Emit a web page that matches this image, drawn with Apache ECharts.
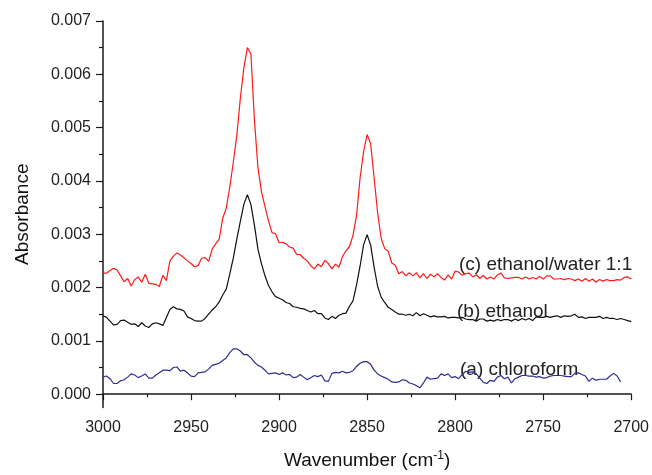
<!DOCTYPE html>
<html>
<head>
<meta charset="utf-8">
<script src="https://cdn.jsdelivr.net/npm/echarts@6/dist/echarts.min.js"></script>
<style>
  html, body { margin: 0; padding: 0; background: #fff; }
  #chart { width: 652px; height: 475px; }
</style>
</head>
<body>
<div id="chart"></div>
<script>
// wavenumber sampling grid, 3000 -> 2700 cm-1, every 2 cm-1
const wavenumber = [];
for (let w = 3000; w >= 2700; w -= 2) wavenumber.push(w);

// absorbance in units of 1e-3
const ethanolWater = [
  2.27,2.27,2.32,2.36,2.33,2.22,2.11,2.17,2.03,2.15,
  2.20,2.10,2.25,2.08,2.07,2.06,2.02,2.23,2.13,2.50,
  2.59,2.65,2.61,2.56,2.50,2.45,2.39,2.41,2.55,2.56,
  2.49,2.72,2.82,2.91,3.30,3.49,3.88,4.35,4.85,5.55,
  6.12,6.50,6.38,5.15,4.25,3.80,3.52,3.25,3.03,3.01,
  2.84,2.85,2.82,2.76,2.74,2.62,2.62,2.55,2.50,2.41,
  2.35,2.44,2.39,2.51,2.45,2.35,2.44,2.38,2.58,2.69,
  2.77,2.98,3.35,4.05,4.55,4.87,4.70,4.05,3.40,2.92,
  2.73,2.68,2.46,2.42,2.26,2.30,2.22,2.28,2.22,2.28,
  2.18,2.26,2.17,2.25,2.20,2.26,2.19,2.14,2.24,2.16,
  2.31,2.29,2.23,2.26,2.27,2.20,2.24,2.17,2.23,2.16,
  2.20,2.16,2.24,2.27,2.18,2.17,2.18,2.19,2.19,2.16,
  2.20,2.16,2.19,2.16,2.21,2.16,2.22,2.22,2.16,2.16,
  2.17,2.15,2.17,2.16,2.13,2.16,2.12,2.17,2.12,2.16,
  2.10,2.15,2.12,2.15,2.13,2.13,2.15,2.14,2.19,2.20,2.16
];

const ethanol = [
  1.47,1.44,1.37,1.30,1.31,1.38,1.39,1.35,1.31,1.32,
  1.27,1.34,1.28,1.25,1.32,1.34,1.32,1.29,1.44,1.59,
  1.64,1.60,1.59,1.56,1.45,1.42,1.38,1.37,1.37,1.42,
  1.50,1.58,1.64,1.73,1.86,1.97,2.25,2.55,2.91,3.24,
  3.56,3.74,3.56,3.17,2.72,2.45,2.22,2.04,1.92,1.83,
  1.80,1.77,1.72,1.70,1.64,1.63,1.61,1.60,1.57,1.54,
  1.57,1.51,1.51,1.43,1.40,1.46,1.42,1.48,1.51,1.52,
  1.65,1.75,2.05,2.40,2.80,2.99,2.80,2.38,2.02,1.82,
  1.72,1.63,1.59,1.54,1.50,1.50,1.48,1.50,1.47,1.53,
  1.47,1.51,1.48,1.45,1.47,1.45,1.45,1.46,1.43,1.44,
  1.44,1.43,1.44,1.41,1.40,1.40,1.37,1.41,1.41,1.37,
  1.39,1.37,1.40,1.38,1.40,1.40,1.37,1.41,1.38,1.42,
  1.39,1.42,1.38,1.45,1.44,1.44,1.46,1.44,1.46,1.47,
  1.44,1.47,1.46,1.47,1.50,1.44,1.45,1.42,1.44,1.44,
  1.44,1.46,1.42,1.44,1.42,1.42,1.40,1.42,1.40,1.38,1.36
];

// chloroform trace stops near 2706 cm-1
const chloroform = [
  0.32,0.34,0.29,0.20,0.20,0.25,0.27,0.32,0.38,0.36,
  0.31,0.34,0.38,0.30,0.30,0.36,0.40,0.45,0.45,0.44,
  0.50,0.51,0.43,0.45,0.40,0.34,0.33,0.40,0.41,0.42,
  0.47,0.54,0.56,0.58,0.63,0.68,0.78,0.85,0.85,0.81,
  0.74,0.74,0.68,0.60,0.54,0.51,0.45,0.38,0.39,0.40,
  0.37,0.40,0.36,0.37,0.31,0.32,0.37,0.32,0.27,0.31,
  0.35,0.33,0.36,0.25,0.24,0.39,0.41,0.40,0.43,0.40,
  0.41,0.44,0.52,0.58,0.61,0.61,0.56,0.45,0.38,0.34,
  0.31,0.28,0.23,0.22,0.23,0.27,0.26,0.21,0.19,0.16,
  0.12,0.21,0.32,0.28,0.29,0.30,0.38,0.35,0.38,0.31,
  0.33,0.29,0.37,0.43,0.41,0.42,0.38,0.30,0.22,0.20,
  0.26,0.24,0.32,0.35,0.29,0.32,0.21,0.29,0.32,0.35,
  0.35,0.34,0.34,0.32,0.33,0.30,0.31,0.34,0.35,0.35,
  0.35,0.34,0.33,0.33,0.39,0.40,0.37,0.34,0.24,0.30,
  0.26,0.28,0.28,0.28,0.34,0.39,0.34,0.23
];

const yLabels = [0, 1, 2, 3, 4, 5, 6, 7];
const yMinor = [0.5, 1.5, 2.5, 3.5, 4.5, 5.5, 6.5];

const curveLabels = [
  {text: '(c) ethanol/water 1:1', x: 459, y: 266},
  {text: '(b) ethanol', x: 457, y: 313},
  {text: '(a) chloroform', x: 460, y: 371}
];

const FONT = "'Liberation Sans', Arial, sans-serif";
const AXIS_COLOR = '#1a1a1a';

function pairs(values) {
  return values.map((v, i) => [wavenumber[i], v]);
}

function line(name, values, color) {
  return {
    name: name,
    type: 'line',
    data: pairs(values),
    showSymbol: false,
    symbol: 'none',
    lineStyle: {color: color, width: 1.2},
    itemStyle: {color: color}
  };
}

let chart = echarts.init(document.getElementById('chart'));

chart.setOption({
  animation: false,
  backgroundColor: '#fff',
  grid: {left: 103, top: 21, width: 531, height: 391},
  xAxis: {
    type: 'value',
    min: 2700,
    max: 3000,
    interval: 50,
    inverse: true,
    name: '{t|Wavenumber (cm}{s|-1}{t|)}',
    nameLocation: 'middle',
    nameGap: 42,
    nameTextStyle: {
      rich: {
        t: {fontFamily: FONT, fontSize: 19, color: '#111', lineHeight: 22},
        s: {fontFamily: FONT, fontSize: 12, color: '#111', verticalAlign: 'top', lineHeight: 12}
      }
    },
    axisLine: {lineStyle: {color: AXIS_COLOR, width: 1.5}},
    axisTick: {length: 6, lineStyle: {color: AXIS_COLOR, width: 1.2}},
    minorTick: {show: true, splitNumber: 2, length: 3, lineStyle: {color: AXIS_COLOR, width: 1.2}},
    axisLabel: {
      fontFamily: FONT, fontSize: 16, color: '#222', margin: 12,
      formatter: (v) => String(v)
    },
    splitLine: {show: false}
  },
  yAxis: [{
    type: 'value',
    min: -0.25,
    max: 7,
    position: 'left',
    name: 'Absorbance',
    nameLocation: 'middle',
    nameGap: 71,
    nameTextStyle: {fontFamily: FONT, fontSize: 19, color: '#111'},
    axisLine: {show: true, lineStyle: {color: AXIS_COLOR, width: 1.5}},
    axisTick: {show: true, length: 7, customValues: yLabels, lineStyle: {color: AXIS_COLOR, width: 1.2}},
    axisLabel: {
      fontFamily: FONT, fontSize: 16, color: '#222', margin: 12,
      customValues: yLabels,
      formatter: (v) => (v / 1000).toFixed(3)
    },
    splitLine: {show: false}
  }, {
    // minor ticks on the left axis
    type: 'value',
    min: -0.25,
    max: 7,
    position: 'left',
    axisLine: {show: false},
    axisTick: {show: true, length: 4, customValues: yMinor, lineStyle: {color: AXIS_COLOR, width: 1.2}},
    axisLabel: {show: false},
    splitLine: {show: false}
  }],
  series: [
    line('(c) ethanol/water 1:1', ethanolWater, '#ff1a1a'),
    line('(b) ethanol', ethanol, '#111111'),
    line('(a) chloroform', chloroform, '#2e2e94')
  ],
  graphic: curveLabels.map((c) => ({
    type: 'text',
    left: c.x,
    top: c.y - 11,
    style: {text: c.text, font: '19px ' + FONT, fill: '#222'}
  }))
});
</script>
</body>
</html>
